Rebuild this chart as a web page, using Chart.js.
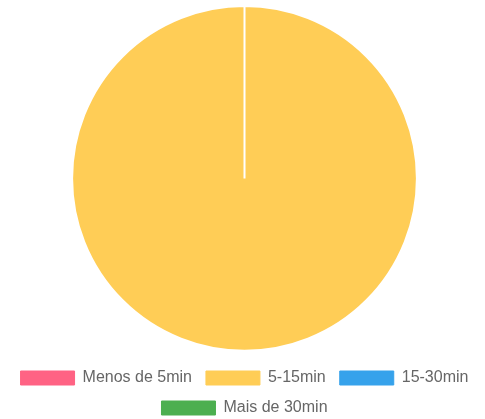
<!DOCTYPE html>
<html><head><meta charset="utf-8">
<script src="https://cdn.jsdelivr.net/npm/chart.js@4"></script>
<style>html,body{margin:0;padding:0;background:#fff;overflow:hidden;width:485px;height:419px}#w{width:485px;height:426px;margin-left:2px}</style>
</head><body><div id="w"><canvas id="c"></canvas></div>
<script>
const categories = ["Menos de 5min", "5-15min", "15-30min", "Mais de 30min"];
const values = [0, 100, 0, 0];
const colors = ["#FF6384", "#FFCD56", "#36A2EB", "#4CAF50"];
new Chart(document.getElementById('c'), {
  type: 'pie',
  data: { labels: categories, datasets: [{ data: values, backgroundColor: colors, borderColor: '#fff', borderWidth: 2 }] },
  options: {
    responsive: true, maintainAspectRatio: false, animation: false,
    layout: { padding: { top: 5, bottom: 0 } },
    plugins: {
      legend: { position: 'bottom',
        title: { display: true, text: ' ', font: { size: 1 }, padding: 1.5 },
        labels: {
        boxWidth: 54, boxHeight: 14, padding: 14, color: '#666',
        font: { family: 'Liberation Sans', size: 16 },
        generateLabels: (chart) => {
          const items = Chart.controllers.pie.overrides.plugins.legend.labels.generateLabels(chart);
          items.forEach(it => { it.strokeStyle = it.fillStyle; it.lineWidth = 1; });
          return items;
        }
      } },
      tooltip: { enabled: false }
    }
  }
});
</script></body></html>
